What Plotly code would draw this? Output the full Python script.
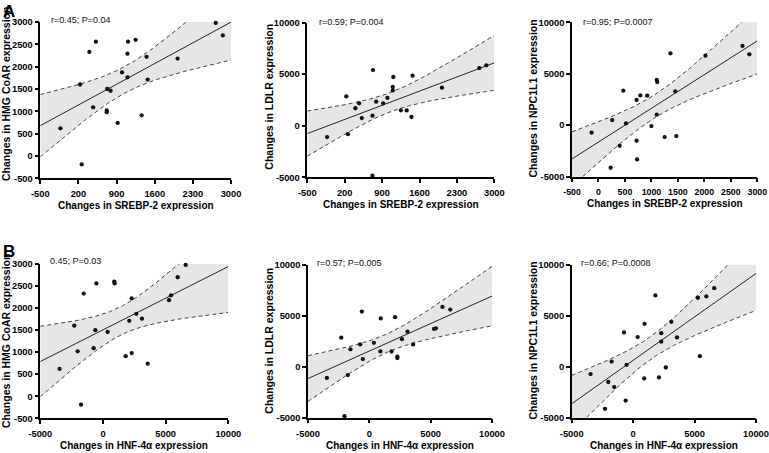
import numpy as np
import plotly.graph_objects as go

W, H = 769, 453

# ---------------- data (22 subjects) ----------------
srebp2 = [-130, 230, 260, 400, 470, 520, 720, 720, 730, 790, 920, 1000,
          1100, 1100, 1110, 1250, 1360, 1450, 1470, 2020, 2720, 2850]
hnf4a = [-3460, -2290, -1750, -1540, -745, -530, -2020, 2290, -610, 370, 3570, 2660,
         3110, 5430, 930, 900, 1810, 2290, 2100, 5270, 6600, 5960]
hmgcoar = [620, 1600, -190, 2330, 1090, 2560, 1020, 980, 1500, 1460, 740, 1870,
           1760, 2290, 2560, 2600, 910, 2220, 1710, 2180, 2980, 2700]
ldlr = [-1100, 2850, -820, 1700, 2180, 750, -4850, 980, 5400, 2340, 2180, 2700,
        3430, 3760, 4730, 1500, 1490, 850, 4860, 3700, 5600, 5860]
npc1l1 = [-720, -4130, 500, -2000, 3360, 180, -1500, 2450, -3320, 2900, 2870, -80,
          4400, 1030, 4200, -1150, 6990, 3290, -1050, 6760, 7700, 6890]

stats_text = ["r=0.45; P=0.04", "r=0.59; P=0.004", "r=0.95; P=0.0007",
              "0.45; P=0.03", "r=0.57; P=0.005", "r=0.66; P=0.0008"]
x_titles = ["Changes in SREBP-2 expression"] * 3 + ["Changes in HNF-4α expression"] * 3
y_titles = ["Changes in HMG CoAR expression", "Changes in LDLR expression",
            "Changes in NPC1L1 expression"] * 2

x_ticks_srebp_a = [-500, 200, 900, 1600, 2300, 3000]
x_ticks_srebp_b = [-500, 0, 500, 1000, 1500, 2000, 2500, 3000]
x_ticks_hnf = [-5000, 0, 5000, 10000]
y_ticks_hmg = [-500, 0, 500, 1000, 1500, 2000, 2500, 3000]
y_ticks_big = [-5000, 0, 5000, 10000]

T975 = 2.086  # t(0.975, df=20)

panels = [
    dict(x=srebp2, y=hmgcoar, xr=[-500, 3000], yr=[-500, 3000], xt=x_ticks_srebp_a, yt=y_ticks_hmg,
         box=(40.3, 231.0, 22.0, 178.3), ytx=5.5, yty=94.5, sx=49.3, sy=20.0, xty=205.0, xfs=9.3),
    dict(x=srebp2, y=ldlr, xr=[-500, 3000], yr=[-5000, 10000], xt=x_ticks_srebp_a, yt=y_ticks_big,
         box=(307.3, 494.3, 22.7, 177.3), ytx=268.7, yty=97.0, sx=316.7, sy=22.0, xty=204.0, xfs=9.3),
    dict(x=srebp2, y=npc1l1, xr=[-500, 3000], yr=[-5000, 10000], xt=x_ticks_srebp_b, yt=y_ticks_big,
         box=(572.0, 757.3, 22.3, 176.7), ytx=532.5, yty=99.0, sx=580.7, sy=22.0, xty=203.5, xfs=8.8),
    dict(x=hnf4a, y=hmgcoar, xr=[-5000, 10000], yr=[-500, 3000], xt=x_ticks_hnf, yt=y_ticks_hmg,
         box=(40.3, 228.3, 264.0, 418.3), ytx=5.5, yty=341.5, sx=48.3, sy=261.0, xty=445.5, xfs=9.3),
    dict(x=hnf4a, y=ldlr, xr=[-5000, 10000], yr=[-5000, 10000], xt=x_ticks_hnf, yt=y_ticks_big,
         box=(308.0, 492.0, 264.7, 417.7), ytx=268.7, yty=341.0, sx=315.3, sy=263.3, xty=445.0, xfs=9.3),
    dict(x=hnf4a, y=npc1l1, xr=[-5000, 10000], yr=[-5000, 10000], xt=x_ticks_hnf, yt=y_ticks_big,
         box=(571.7, 756.0, 264.7, 417.7), ytx=532.5, yty=341.0, sx=579.0, sy=263.3, xty=445.0, xfs=9.3),
]

FONT = "Liberation Sans, Arial, Helvetica, sans-serif"
fig = go.Figure()
annotations = []

def px2x(p):
    return p / W

def px2y(p):
    return 1 - p / H

def bold_labels(vals):
    return [f"<b>{v}</b>" for v in vals]

for i, p in enumerate(panels):
    n = i + 1
    xa = "x" if n == 1 else f"x{n}"
    ya = "y" if n == 1 else f"y{n}"
    x = np.array(p["x"], float)
    y = np.array(p["y"], float)
    # OLS fit and 95% confidence band
    N = len(x)
    b, a = np.polyfit(x, y, 1)
    res = y - (a + b * x)
    s = np.sqrt(np.sum(res ** 2) / (N - 2))
    sxx = np.sum((x - x.mean()) ** 2)
    xg = np.linspace(p["xr"][0], p["xr"][1], 200)
    yg = a + b * xg
    hw = T975 * s * np.sqrt(1.0 / N + (xg - x.mean()) ** 2 / sxx)
    lo, hi = yg - hw, yg + hw

    fig.add_trace(go.Scatter(x=xg, y=lo, mode="lines", line=dict(width=0, color="rgba(0,0,0,0)"),
                             xaxis=xa, yaxis=ya, showlegend=False, hoverinfo="skip"))
    fig.add_trace(go.Scatter(x=xg, y=hi, mode="lines", line=dict(width=0, color="rgba(0,0,0,0)"),
                             fill="tonexty", fillcolor="#e6e6e6",
                             xaxis=xa, yaxis=ya, showlegend=False, hoverinfo="skip"))
    for band in (lo, hi):
        fig.add_trace(go.Scatter(x=xg, y=band, mode="lines",
                                 line=dict(width=1, color="#444444", dash="4px,3px"),
                                 xaxis=xa, yaxis=ya, showlegend=False, hoverinfo="skip"))
    fig.add_trace(go.Scatter(x=xg, y=yg, mode="lines", line=dict(width=1, color="#222222"),
                             xaxis=xa, yaxis=ya, showlegend=False, hoverinfo="skip"))
    fig.add_trace(go.Scatter(x=x, y=y, mode="markers", marker=dict(size=4.3, color="#111111"),
                             cliponaxis=False, xaxis=xa, yaxis=ya, showlegend=False))

    l, r, t, bt = p["box"]
    axis_common = dict(showline=True, linecolor="black", linewidth=1.5, ticks="outside",
                       ticklen=4, tickwidth=1.5, tickcolor="black", showgrid=False,
                       zeroline=False, mirror=False, automargin=False)
    fig.update_layout(**{
        ("xaxis" if n == 1 else f"xaxis{n}"): dict(
            domain=[px2x(l), px2x(r)], range=p["xr"], tickvals=p["xt"],
            ticktext=bold_labels(p["xt"]), tickmode="array",
            tickfont=dict(family=FONT, size=p["xfs"], color="black"),
            anchor=ya, ticklabelstandoff=2, **axis_common),
        ("yaxis" if n == 1 else f"yaxis{n}"): dict(
            domain=[px2y(bt), px2y(t)], range=p["yr"], tickvals=p["yt"],
            ticktext=bold_labels(p["yt"]), tickmode="array",
            tickfont=dict(family=FONT, size=9.3, color="black"),
            anchor=xa, **axis_common),
    })
    # axis titles
    annotations.append(dict(text=f"<b>{x_titles[i]}</b>", x=px2x((l + r) / 2), y=px2y(p["xty"]),
                            xref="paper", yref="paper", showarrow=False,
                            xanchor="center", yanchor="middle",
                            font=dict(family=FONT, size=10, color="black")))
    annotations.append(dict(text=f"<b>{y_titles[i]}</b>", x=px2x(p["ytx"]), y=px2y(p["yty"]),
                            xref="paper", yref="paper", showarrow=False, textangle=-90,
                            xanchor="center", yanchor="middle",
                            font=dict(family=FONT, size=10.5, color="black")))
    annotations.append(dict(text=stats_text[i], x=px2x(p["sx"]), y=px2y(p["sy"]),
                            xref="paper", yref="paper", showarrow=False,
                            xanchor="left", yanchor="middle",
                            font=dict(family=FONT, size=9, color="#111111")))

annotations.append(dict(text="<b>A</b>", x=px2x(0.5), y=px2y(-0.5), xref="paper", yref="paper",
                        showarrow=False, xanchor="left", yanchor="top",
                        font=dict(family=FONT, size=17, color="black")))
annotations.append(dict(text="<b>B</b>", x=px2x(0.5), y=px2y(239.5), xref="paper", yref="paper",
                        showarrow=False, xanchor="left", yanchor="top",
                        font=dict(family=FONT, size=17, color="black")))

fig.update_layout(template="none", width=W, height=H, margin=dict(l=0, r=0, t=0, b=0),
                  paper_bgcolor="white", plot_bgcolor="white",
                  font=dict(family=FONT, color="black"),
                  annotations=annotations, showlegend=False)

fig.write_html("out.html", config={"displayModeBar": False},
               post_script="document.body.style.margin='0px';document.body.style.overflow='hidden';")
